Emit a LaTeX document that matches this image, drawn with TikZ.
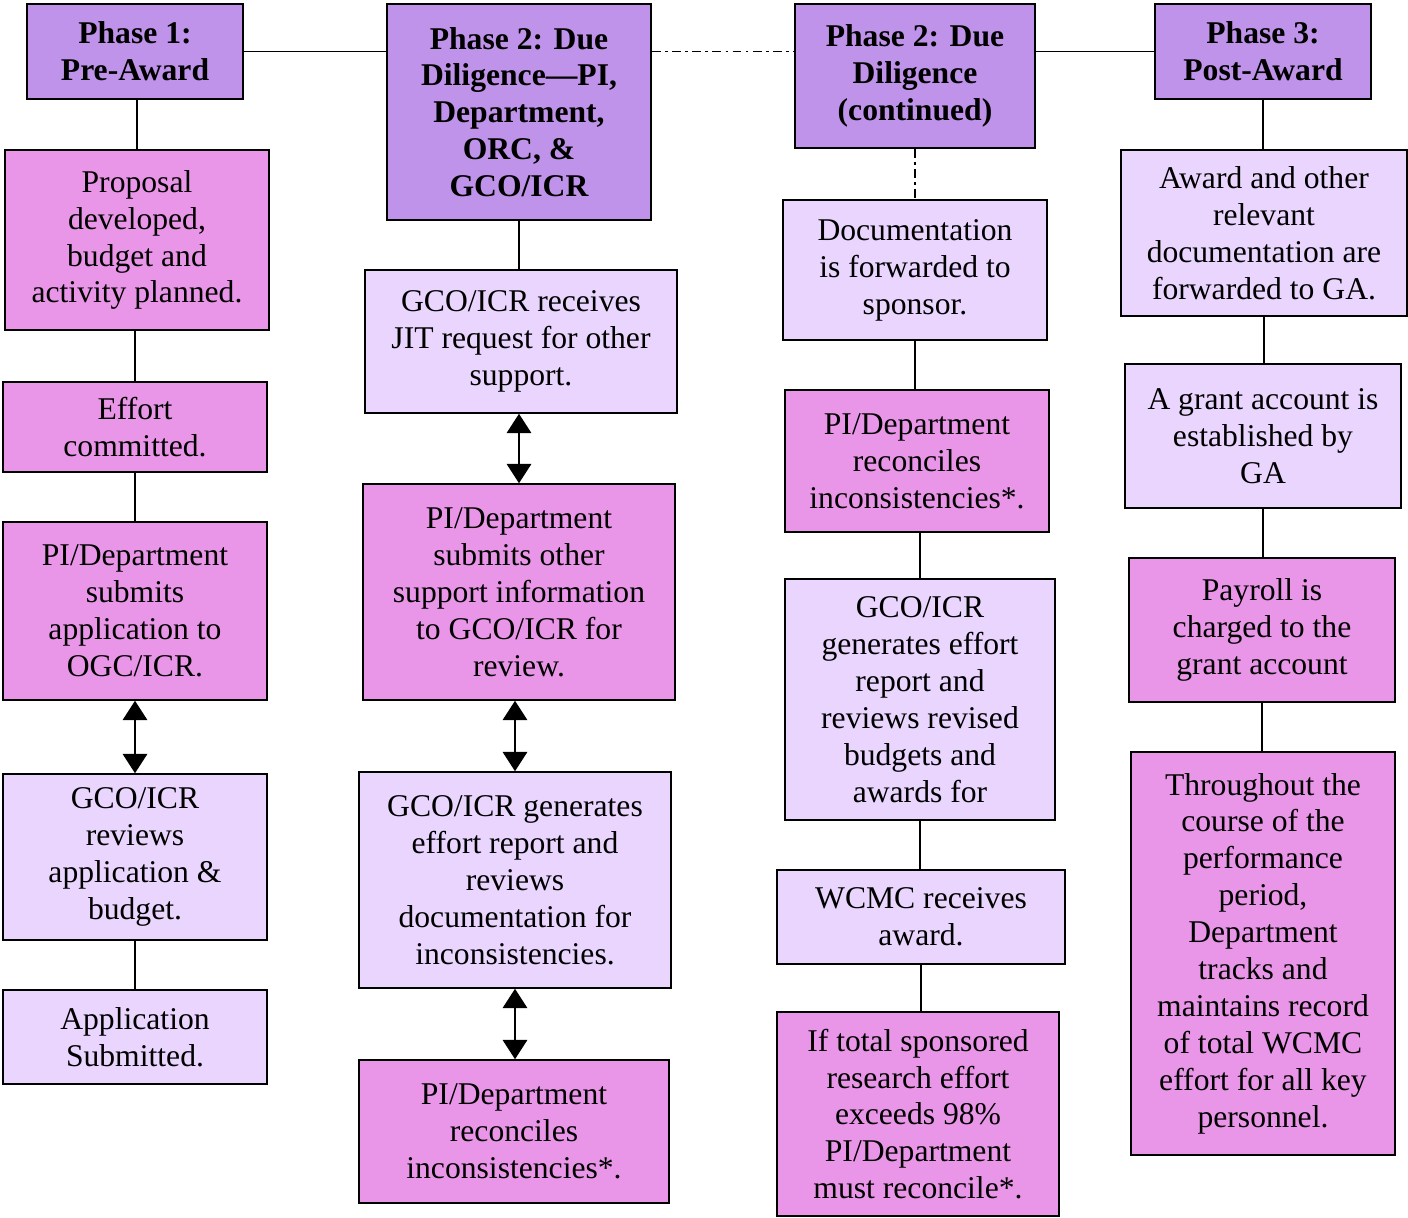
\documentclass[tikz,border=0pt]{standalone}
\usepackage{fontspec}
\setmainfont{Liberation Serif}
\usepackage{tikz}
\usetikzlibrary{calc}
\usetikzlibrary{shapes,arrows,arrows.meta}

\definecolor{headpurple}{RGB}{191,147,233}
\definecolor{boxpink}{RGB}{234,150,232}
\definecolor{boxlav}{RGB}{233,213,253}

\begin{document}
\begin{tikzpicture}
		\tikzstyle{every node}=[font=\fontsize{18}{21}\selectfont, align=center, inner sep=2pt]
		\tikzstyle{box}=[draw=black, line width=0.9pt, rectangle]
		\tikzstyle{head}=[box, fill=headpurple, font=\fontsize{18}{21}\selectfont\bfseries]
		\tikzstyle{pink}=[box, fill=boxpink]
		\tikzstyle{lav}=[box, fill=boxlav]
		\tikzstyle{link}=[line width=0.8pt]
		\tikzstyle{dlink}=[line width=0.8pt, {Triangle[width=14pt,length=11pt]}-{Triangle[width=14pt,length=11pt]}]
		\tikzstyle{dashdot}=[line width=0.8pt, dash pattern=on 5pt off 2.5pt on 1.5pt off 2.5pt]
		
		\useasboundingbox (0,0) rectangle (28.16,-24.36);
		
		% Phase 1
		\node [head, minimum width=4.32cm, minimum height=1.90cm] (h1) at (2.70,-1.03) {Phase 1:\\Pre-Award};
		\node [pink, minimum width=5.28cm, minimum height=3.60cm] (proposal) at (2.74,-4.80) {Proposal\\developed,\\budget and\\activity planned.};
		\node [pink, minimum width=5.28cm, minimum height=1.80cm] (effort) at (2.70,-8.54) {Effort\\committed.};
		\node [pink, minimum width=5.28cm, minimum height=3.56cm] (pisubmit) at (2.70,-12.22) {PI/Department\\submits\\application to\\OGC/ICR.};
		\node [lav, minimum width=5.28cm, minimum height=3.32cm] (gcoreview) at (2.70,-17.14) {GCO/ICR\\reviews\\application \&\\budget.};
		\node [lav, minimum width=5.28cm, minimum height=1.88cm] (appsub) at (2.70,-20.74) {Application\\Submitted.};
		
		% Phase 2
		\node [head, minimum width=5.28cm, minimum height=4.32cm] (h2) at (10.38,-2.24) {Phase 2: Due\\Diligence---PI,\\Department,\\ORC, \&\\GCO/ICR};
		\node [lav, minimum width=6.24cm, minimum height=2.86cm] (jit) at (10.42,-6.83) {GCO/ICR receives\\JIT request for other\\support.};
		\node [pink, minimum width=6.24cm, minimum height=4.32cm] (piother) at (10.38,-11.84) {PI/Department\\submits other\\support information\\to GCO/ICR for\\review.};
		\node [lav, minimum width=6.24cm, minimum height=4.32cm] (gcogen) at (10.30,-17.60) {GCO/ICR generates\\effort report and\\reviews\\documentation for\\inconsistencies.};
		\node [pink, minimum width=6.20cm, minimum height=2.86cm] (pirec) at (10.28,-22.63) {PI/Department\\reconciles\\inconsistencies*.};
		
		% Phase 2 (continued)
		\node [head, minimum width=4.80cm, minimum height=2.88cm] (h3) at (18.30,-1.52) {Phase 2: Due\\Diligence\\(continued)};
		\node [lav, minimum width=5.28cm, minimum height=2.80cm] (doc) at (18.30,-5.40) {Documentation\\is forwarded to\\sponsor.};
		\node [pink, minimum width=5.28cm, minimum height=2.84cm] (pirecb) at (18.34,-9.22) {PI/Department\\reconciles\\inconsistencies*.};
		\node [lav, minimum width=5.40cm, minimum height=4.82cm] (gcoeff) at (18.40,-13.99) {GCO/ICR\\generates effort\\report and\\reviews revised\\budgets and\\awards for};
		\node [lav, minimum width=5.76cm, minimum height=1.88cm] (wcmc) at (18.42,-18.34) {WCMC receives\\award.};
		\node [pink, minimum width=5.64cm, minimum height=4.08cm] (iftotal) at (18.36,-22.28) {If total sponsored\\research effort\\exceeds 98\%\\PI/Department\\must reconcile*.};
		
		% Phase 3
		\node [head, minimum width=4.32cm, minimum height=1.90cm] (h4) at (25.26,-1.03) {Phase 3:\\Post-Award};
		\node [lav, minimum width=5.72cm, minimum height=3.32cm] (award) at (25.28,-4.66) {Award and other\\relevant\\documentation are\\forwarded to GA.};
		\node [lav, minimum width=5.52cm, minimum height=2.88cm] (grant) at (25.26,-8.72) {A grant account is\\established by\\GA};
		\node [pink, minimum width=5.32cm, minimum height=2.88cm] (payroll) at (25.24,-12.60) {Payroll is\\charged to the\\grant account};
		\node [pink, minimum width=5.28cm, minimum height=8.06cm] (through) at (25.26,-19.07) {Throughout the\\course of the\\performance\\period,\\Department\\tracks and\\maintains record\\of total WCMC\\effort for all key\\personnel.};
		
		% header links
		\draw [link] (h1.east) -- (h1.east -| h2.west);
		\draw [dashdot] (h1.east -| h2.east) -- (h1.east -| h3.west);
		\draw [link] (h4.west) -- (h4.west -| h3.east);
		
		% column 1
		\draw [link] (proposal.north) -- (proposal.north |- h1.south);
		\draw [link] (effort.north) -- (effort.north |- proposal.south);
		\draw [link] (effort.south) -- (effort.south |- pisubmit.north);
		\draw [dlink] (pisubmit.south) -- (pisubmit.south |- gcoreview.north);
		\draw [link] (gcoreview.south) -- (gcoreview.south |- appsub.north);
		
		% column 2
		\draw [link] (h2.south) -- (h2.south |- jit.north);
		\draw [dlink] (piother.north) -- (piother.north |- jit.south);
		\draw [dlink] (gcogen.north) -- (gcogen.north |- piother.south);
		\draw [dlink] (gcogen.south) -- (gcogen.south |- pirec.north);
		
		% column 3
		\draw [dashdot] (h3.south) -- (h3.south |- doc.north);
		\draw [link] (doc.south) -- (doc.south |- pirecb.north);
		\draw [link] (gcoeff.north) -- (gcoeff.north |- pirecb.south);
		\draw [link] (gcoeff.south) -- (gcoeff.south |- wcmc.north);
		\draw [link] (wcmc.south) -- (wcmc.south |- iftotal.north);
		
		% column 4
		\draw [link] (h4.south) -- (h4.south |- award.north);
		\draw [link] (award.south) -- (award.south |- grant.north);
		\draw [link] (grant.south) -- (grant.south |- payroll.north);
		\draw [link] (payroll.south) -- (payroll.south |- through.north);
		
\end{tikzpicture}
\end{document}
